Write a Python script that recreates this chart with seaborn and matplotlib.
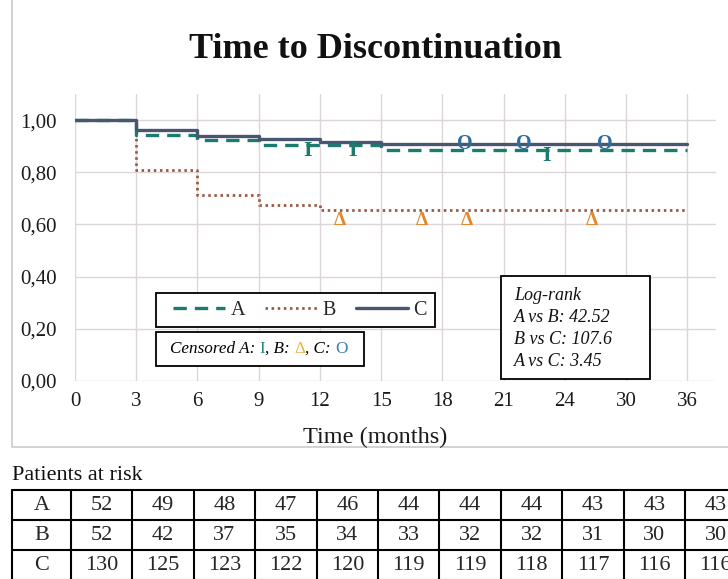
import numpy as np
import pandas as pd
import matplotlib
matplotlib.use("Agg")
import matplotlib.pyplot as plt
import seaborn as sns
from matplotlib.lines import Line2D
from matplotlib.patches import Rectangle
from matplotlib.offsetbox import TextArea, HPacker, AnchoredOffsetbox

# ---------------- data ----------------
month_ticks = [0, 3, 6, 9, 12, 15, 18, 21, 24, 30, 36]
y_ticks = [0.0, 0.2, 0.4, 0.6, 0.8, 1.0]
y_tick_labels = ["0,00", "0,20", "0,40", "0,60", "0,80", "1,00"]

groups = ["A", "B", "C"]
step_months = [0, 3, 6, 9, 12, 15, 36]
surv_A = [1.000, 0.943, 0.923, 0.904, 0.904, 0.885, 0.885]
surv_B = [1.000, 0.808, 0.712, 0.673, 0.654, 0.654, 0.654]
surv_C = [1.000, 0.962, 0.938, 0.928, 0.915, 0.908, 0.908]

cens_A = [11.4, 13.6, 23.1]
cens_B = [13.0, 17.0, 19.2, 26.7]
cens_C = [19.1, 22.0, 27.9]

risk_A = [52, 49, 48, 47, 46, 44, 44, 44, 43, 43, 43]
risk_B = [52, 42, 37, 35, 34, 33, 32, 32, 31, 30, 30]
risk_C = [130, 125, 123, 122, 120, 119, 119, 118, 117, 116, 116]

logrank_lines = ["Log-rank", "A vs B: 42.52", "B vs C: 107.6", "A vs C: 3.45"]

# ---------------- style ----------------
sns.set_style("white")
plt.rcParams["font.family"] = ["Liberation Serif", "DejaVu Serif"]

W, H = 728, 579
fig = plt.figure(figsize=(W / 100, H / 100), dpi=100)

def fx(px):
    return px / W

def fy(py):
    return 1 - py / H

ax = fig.add_axes([fx(75), fy(381), fx(716) - fx(75), fy(94) - fy(381)])

positions = np.arange(len(month_ticks))

def to_pos(m):
    return np.interp(m, month_ticks, positions)

colors = {"A": "#1c7a6e", "B": "#9a5a42", "C": "#4a5570"}
styles = {
    "A": dict(linestyle=(0, (4.0, 2.4)), lw=2.4),
    "B": dict(linestyle=(0, (0.9, 1.3)), lw=2.0),
    "C": dict(linestyle="-", lw=2.4),
}
survs = {"A": surv_A, "B": surv_B, "C": surv_C}

rows = []
for g in groups:
    for m, s in zip(step_months, survs[g]):
        rows.append({"group": g, "pos": to_pos(m), "surv": s})
df = pd.DataFrame(rows)

for g in ["B", "A", "C"]:
    sns.lineplot(data=df[df.group == g], x="pos", y="surv", ax=ax,
                 color=colors[g], drawstyle="steps-post", legend=False,
                 zorder=3, **styles[g])

def surv_at(g, m):
    idx = np.searchsorted(step_months, m, side="right") - 1
    return survs[g][idx]

cens = {"A": cens_A, "B": cens_B, "C": cens_C}
cens_glyph = {"A": "I", "B": "Δ", "C": "O"}
cens_color = {"A": "#1c7a6e", "B": "#e0892c", "C": "#2f6c9c"}
cens_off = {"A": -0.042, "B": -0.057, "C": -0.020}
cens_size = {"A": 16, "B": 14, "C": 14.5}
for g in groups:
    for m in cens[g]:
        ax.text(to_pos(m), surv_at(g, m) + cens_off[g], cens_glyph[g],
                color=cens_color[g], fontsize=cens_size[g], fontweight="bold",
                ha="center", va="baseline", zorder=4)

ax.set_xlim(0, 10.47)
ax.set_ylim(0, 1.1)
ax.set_xticks(positions)
ax.set_xticklabels([str(m) for m in month_ticks])
ax.set_yticks(y_ticks)
ax.set_yticklabels(y_tick_labels)
ax.tick_params(axis="both", length=0, labelsize=15, colors="#1a1a1a")
ax.tick_params(axis="x", pad=8)
ax.tick_params(axis="y", pad=13)
ax.grid(True, color="#dcd5d9", lw=1.0)
for sp in ax.spines.values():
    sp.set_visible(False)
ax.set_xlabel("")
ax.set_ylabel("")

# ---------------- overlay (boxes, title, table) ----------------
ov = fig.add_axes([0, 0, 1, 1], zorder=5)
ov.set_xlim(0, W)
ov.set_ylim(H, 0)
ov.axis("off")

# outer chart border
ov.add_patch(Rectangle((11.5, -5), 730, 452, fill=False, ec="#cfcfcf", lw=1.3))

ov.text(375, 50, "Time to Discontinuation", fontsize=26, fontweight="bold",
        ha="center", va="center", color="#111111")
ov.text(375, 437, "Time (months)", fontsize=17.5, ha="center", va="center",
        color="#1a1a1a")

# main legend
ov.add_patch(Rectangle((156, 293), 279, 34, fc="white", ec="black", lw=1.3))
handles = [Line2D([], [], color=colors[g], **styles[g]) for g in groups]
ov.legend(handles, groups, loc="center left", bbox_to_anchor=(fx(173), fy(310)),
          bbox_transform=fig.transFigure, frameon=False, ncol=3, fontsize=14.5,
          handlelength=2.6, handletextpad=0.25, columnspacing=1.0,
          borderaxespad=0, borderpad=0)

# censored legend
ov.add_patch(Rectangle((156, 332), 208, 34, fc="white", ec="black", lw=1.3))
parts = [("Censored A: ", "black", "italic"), ("I", "#2b8585", "normal"),
         (", B: ", "black", "italic"), ("Δ", "#e6b445", "normal"),
         (", C: ", "black", "italic"), ("O", "#3f7cb0", "normal")]
areas = [TextArea(t, textprops=dict(color=c, fontstyle=s, fontsize=12.3))
         for t, c, s in parts]
pack = HPacker(children=areas, align="baseline", pad=0, sep=0)
ab = AnchoredOffsetbox(loc="center left", child=pack, frameon=False, pad=0,
                       borderpad=0, bbox_to_anchor=(fx(170), fy(349)),
                       bbox_transform=fig.transFigure)
ov.add_artist(ab)

# log-rank box
ov.add_patch(Rectangle((501, 276), 149, 103, fc="white", ec="black", lw=1.3))
for i, line in enumerate(logrank_lines):
    ov.text(514, 296 + i * 21.7, line, fontsize=13, fontstyle="italic",
            ha="left", va="center", color="#111111")

# patients-at-risk table
ov.text(12, 475, "Patients at risk", fontsize=16, ha="left", va="center",
        color="#111111")
t_left, first_w, col_w, t_top, row_h = 12, 59, 61.4, 490, 30
n_cols = len(month_ticks)
t_right = t_left + first_w + n_cols * col_w
risks = {"A": risk_A, "B": risk_B, "C": risk_C}
for i in range(4):
    y = t_top + i * row_h
    ov.plot([t_left, t_right], [y, y], color="black", lw=1.5)
xs = [t_left, t_left + first_w] + [t_left + first_w + k * col_w for k in range(1, n_cols + 1)]
for x in xs:
    ov.plot([x, x], [t_top, t_top + 3 * row_h], color="black", lw=1.5)
for r, g in enumerate(groups):
    yc = t_top + (r + 0.5) * row_h
    ov.text(t_left + first_w / 2, yc, g, fontsize=16, ha="center", va="center")
    for k, v in enumerate(risks[g]):
        ov.text(t_left + first_w + (k + 0.5) * col_w, yc, str(v), fontsize=16,
                ha="center", va="center")

fig.savefig("out.png", dpi=100)
